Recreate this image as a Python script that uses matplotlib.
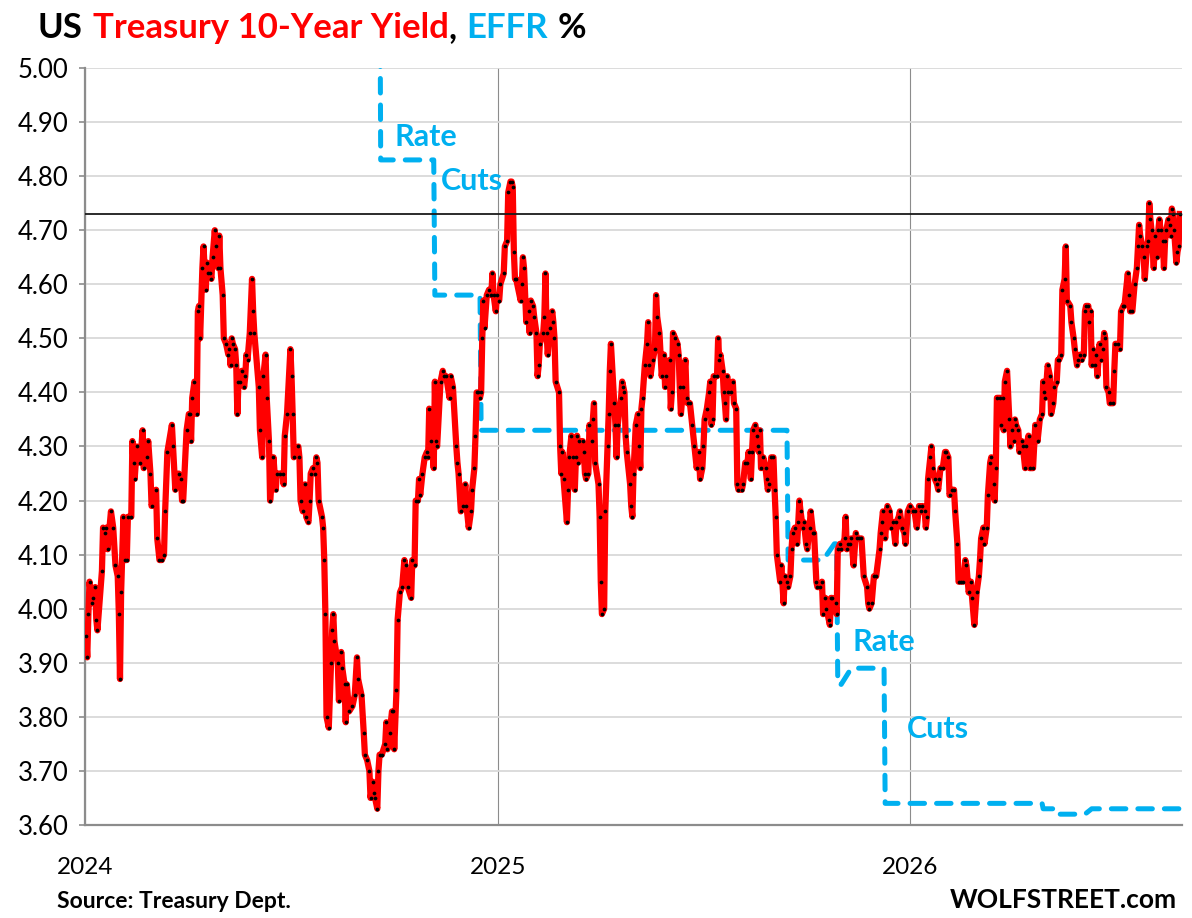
import matplotlib
matplotlib.use("Agg")
import matplotlib.pyplot as plt
import matplotlib.dates as mdates
from matplotlib import font_manager
from matplotlib.ticker import FormatStrFormatter, MultipleLocator
import numpy as np

plt.rcParams["font.family"] = ["Lato", "DejaVu Sans"]

installed = {f.name for f in font_manager.fontManager.ttflist}
narrow = "Liberation Sans Narrow" if "Liberation Sans Narrow" in installed else "Lato"

start = np.datetime64("2024-01-01")

# 10-year Treasury yield, x = days since 2024-01-01
yield_days = [
    1, 2, 3, 4, 6, 7, 9, 10, 11, 15,
    16, 18, 19, 20, 23, 25, 27, 29, 30, 31,
    32, 34, 35, 37, 38, 41, 42, 43, 44, 46,
    49, 51, 52, 55, 56, 58, 59, 63, 64, 66,
    68, 70, 71, 73, 77, 78, 80, 83, 85, 86,
    87, 90, 92, 93, 94, 95, 97, 99, 100, 101,
    102, 104, 105, 107, 108, 109, 111, 112, 113, 115,
    116, 118, 119, 120, 122, 123, 125, 127, 128, 129,
    130, 131, 133, 134, 135, 136, 137, 139, 141, 142,
    143, 144, 146, 148, 149, 150, 154, 155, 157, 158,
    160, 161, 163, 164, 167, 169, 170, 173, 175, 176,
    177, 179, 182,
    183, 184, 185, 189, 190, 191, 193, 195, 196, 198,
    199, 200, 202, 204, 205, 206, 207, 210, 211, 212,
    213, 214, 216, 218, 219, 220, 221, 224, 225, 227,
    228, 230, 231, 232, 234, 237, 239, 241, 242, 245,
    247, 248, 250, 252, 253, 255, 256, 257, 259, 260,
    261, 263, 266, 267, 268, 270, 272, 273, 274, 276,
    277, 279, 281, 283, 284, 286, 289, 290, 292, 293,
    295, 296, 297, 299, 301, 303, 304, 305, 307, 309,
    310, 311, 312, 315, 317, 318, 320, 323, 324, 326,
    329, 330, 331, 333, 335, 337, 338, 340, 342, 343,
    345, 346, 347, 348, 350, 351, 352, 353, 354, 356,
    358, 360, 361, 362, 364, 365, 367, 368, 371,
    372, 374, 375, 377, 378, 379, 380, 381, 382, 386,
    387, 388, 389, 391, 393, 394, 395, 397, 398, 400,
    401, 402, 403, 406, 407, 408, 409, 410, 412, 414,
    415, 416, 417, 420, 421, 422, 423, 424, 427, 428,
    429, 431, 432, 434, 435, 436, 437, 438, 441, 442,
    443, 444, 446, 447, 449, 450, 451, 452, 455, 456,
    457, 458, 460, 461, 463, 464, 465, 466, 469, 470,
    471, 472, 475, 476, 477, 478, 479, 480, 483, 484,
    485, 486, 488, 490, 491, 492, 493, 494, 496, 498,
    499, 500, 501, 503, 505, 506, 507, 509, 511, 513,
    514, 515, 518, 519, 520, 521, 523, 525, 526, 527,
    528, 530, 532, 533, 534, 536, 538, 540, 542, 544,
    545, 547, 548,
    549, 551, 553, 554, 555, 556, 557, 560, 561, 562,
    563, 565, 566, 567, 568, 569, 570, 572, 574, 575,
    577, 578, 579, 582, 583, 585, 587, 588, 590, 591,
    592, 594, 595, 596, 597, 598, 599, 601, 603, 604,
    605, 606, 608, 610, 611, 612, 613, 616, 617, 619,
    620, 622, 623, 625, 626, 627, 629, 631, 632, 633,
    634, 636, 637, 639, 640, 642, 643, 645, 646, 648,
    649, 651, 653, 654, 656, 657, 659, 660, 661, 662,
    665, 666, 667, 669, 670, 673, 674, 675, 676, 678,
    679, 681, 683, 684, 686, 688, 690, 693, 694, 695,
    697, 699, 701, 704, 705, 706, 707, 709, 711, 713,
    714, 716, 718, 719, 721, 722, 724, 726, 727, 729,
    731, 734, 735, 737, 739,
    741, 742, 744, 745, 746, 747, 749, 750, 751, 753,
    755, 756, 757, 758, 760, 762, 763, 765, 766, 768,
    770, 771, 773, 774, 776, 778, 780, 781, 783, 785,
    786, 788, 790, 792, 793, 794, 796, 797, 799, 800,
    802, 803, 805, 806, 807, 808, 811, 812, 813, 814,
    815, 817, 819, 820, 821, 823, 824, 825, 827, 828,
    830, 831, 833, 834, 836, 837, 840, 842, 844, 846,
    848, 849, 850, 851, 853, 855, 856, 858, 859, 861,
    862, 863, 865, 866, 868, 869, 870, 873, 874, 876,
    877, 879, 880, 882, 883, 885, 886, 887, 889, 890,
    891, 892, 893, 895, 896, 897, 899, 900, 902, 903,
    904, 905, 907, 908, 911, 912, 913, 915, 917, 918,
    920, 921, 924, 925, 926, 928, 930, 932, 933, 934,
    935, 937, 938, 939, 941, 942, 943, 944, 945, 947,
    948, 950, 951, 952, 953, 955, 956, 957, 958, 960,
    961, 962, 963, 964, 965, 967, 968, 969, 970,
]
yield_vals = [
    3.95, 3.91, 3.99, 4.05, 4.01, 4.02, 4.04, 3.98, 3.96, 4.07,
    4.15, 4.14, 4.15, 4.11, 4.18, 4.15, 4.08, 4.06, 3.99, 3.87,
    4.03, 4.17, 4.09, 4.09, 4.17, 4.17, 4.31, 4.27, 4.24, 4.30,
    4.27, 4.33, 4.26, 4.28, 4.31, 4.25, 4.19, 4.22, 4.13, 4.09,
    4.09, 4.10, 4.18, 4.29, 4.34, 4.30, 4.22, 4.25, 4.24, 4.20,
    4.20, 4.33, 4.36, 4.36, 4.31, 4.39, 4.42, 4.36, 4.55, 4.56,
    4.50, 4.63, 4.67, 4.59, 4.64, 4.62, 4.62, 4.61, 4.65, 4.70,
    4.67, 4.63, 4.69, 4.63, 4.58, 4.50, 4.49, 4.47, 4.48, 4.45,
    4.50, 4.49, 4.48, 4.45, 4.36, 4.42, 4.42, 4.44, 4.41, 4.43,
    4.47, 4.46, 4.51, 4.61, 4.55, 4.51, 4.41, 4.33, 4.28, 4.43,
    4.47, 4.39, 4.31, 4.20, 4.28, 4.22, 4.25, 4.25, 4.25, 4.23,
    4.32, 4.36, 4.48,
    4.43, 4.36, 4.28, 4.30, 4.28, 4.20, 4.18, 4.23, 4.17, 4.16,
    4.20, 4.25, 4.26, 4.25, 4.28, 4.27, 4.20, 4.17, 4.15, 4.09,
    3.99, 3.80, 3.78, 3.90, 3.96, 3.99, 3.94, 3.90, 3.83, 3.92,
    3.89, 3.86, 3.79, 3.86, 3.81, 3.82, 3.84, 3.91, 3.87, 3.84,
    3.77, 3.73, 3.72, 3.70, 3.65, 3.68, 3.66, 3.65, 3.63, 3.70,
    3.73, 3.73, 3.75, 3.79, 3.74, 3.77, 3.81, 3.81, 3.74, 3.85,
    3.98, 4.03, 4.04, 4.09, 4.08, 4.04, 4.02, 4.09, 4.08, 4.20,
    4.20, 4.24, 4.21, 4.25, 4.28, 4.29, 4.28, 4.37, 4.31, 4.26,
    4.42, 4.31, 4.30, 4.42, 4.44, 4.43, 4.43, 4.39, 4.43, 4.41,
    4.30, 4.27, 4.25, 4.18, 4.19, 4.23, 4.19, 4.15, 4.18, 4.22,
    4.26, 4.32, 4.40, 4.40, 4.39, 4.40, 4.50, 4.57, 4.52, 4.58,
    4.59, 4.58, 4.62, 4.58, 4.55, 4.58, 4.57, 4.60, 4.62,
    4.67, 4.68, 4.77, 4.79, 4.79, 4.78, 4.66, 4.61, 4.61, 4.57,
    4.60, 4.65, 4.63, 4.53, 4.55, 4.51, 4.57, 4.56, 4.54, 4.51,
    4.43, 4.45, 4.49, 4.51, 4.54, 4.62, 4.51, 4.47, 4.52, 4.55,
    4.53, 4.50, 4.42, 4.40, 4.30, 4.25, 4.29, 4.24, 4.16, 4.22,
    4.28, 4.32, 4.28, 4.22, 4.28, 4.32, 4.27, 4.31, 4.31, 4.29,
    4.25, 4.24, 4.25, 4.34, 4.31, 4.35, 4.38, 4.27, 4.23, 4.17,
    4.05, 3.99, 4.00, 4.18, 4.30, 4.36, 4.44, 4.49, 4.38, 4.34,
    4.28, 4.34, 4.39, 4.42, 4.41, 4.40, 4.32, 4.29, 4.23, 4.19,
    4.17, 4.25, 4.34, 4.36, 4.30, 4.26, 4.37, 4.39, 4.45, 4.49,
    4.53, 4.45, 4.43, 4.46, 4.48, 4.58, 4.54, 4.51, 4.43, 4.47,
    4.41, 4.43, 4.46, 4.37, 4.40, 4.51, 4.50, 4.49, 4.47, 4.41,
    4.36, 4.41, 4.46, 4.39, 4.38, 4.38, 4.34, 4.30, 4.26, 4.29,
    4.24, 4.26, 4.30,
    4.35, 4.37, 4.40, 4.42, 4.34, 4.35, 4.43, 4.43, 4.50, 4.46,
    4.47, 4.44, 4.40, 4.38, 4.35, 4.43, 4.40, 4.40, 4.42, 4.38,
    4.37, 4.23, 4.22, 4.22, 4.23, 4.27, 4.27, 4.29, 4.24, 4.29,
    4.33, 4.34, 4.32, 4.30, 4.29, 4.33, 4.26, 4.28, 4.26, 4.24,
    4.22, 4.23, 4.28, 4.28, 4.22, 4.17, 4.10, 4.05, 4.08, 4.01,
    4.06, 4.05, 4.04, 4.06, 4.11, 4.14, 4.15, 4.12, 4.16, 4.20,
    4.18, 4.15, 4.16, 4.12, 4.11, 4.15, 4.18, 4.14, 4.14, 4.05,
    4.04, 4.04, 4.05, 3.99, 4.02, 4.00, 3.98, 3.97, 4.02, 4.02,
    4.01, 3.99, 4.11, 4.12, 4.11, 4.13, 4.17, 4.11, 4.12, 4.12,
    4.13, 4.08, 4.14, 4.13, 4.13, 4.13, 4.06, 4.04, 4.01, 4.00,
    4.01, 4.06, 4.06, 4.11, 4.14, 4.16, 4.18, 4.13, 4.19, 4.18,
    4.15, 4.16, 4.12, 4.16, 4.17, 4.18, 4.15, 4.14, 4.12, 4.18,
    4.19, 4.18, 4.18, 4.15, 4.19,
    4.18, 4.19, 4.18, 4.15, 4.17, 4.24, 4.28, 4.30, 4.26, 4.24,
    4.23, 4.22, 4.24, 4.26, 4.26, 4.29, 4.29, 4.28, 4.21, 4.22,
    4.22, 4.18, 4.12, 4.05, 4.05, 4.05, 4.09, 4.08, 4.03, 4.05,
    4.02, 3.97, 4.03, 4.06, 4.09, 4.13, 4.15, 4.12, 4.15, 4.21,
    4.27, 4.28, 4.23, 4.20, 4.26, 4.39, 4.39, 4.34, 4.39, 4.33,
    4.42, 4.44, 4.35, 4.30, 4.33, 4.31, 4.35, 4.34, 4.33, 4.29,
    4.31, 4.30, 4.26, 4.30, 4.32, 4.26, 4.26, 4.34, 4.31, 4.35,
    4.36, 4.42, 4.40, 4.39, 4.45, 4.43, 4.36, 4.38, 4.41, 4.42,
    4.46, 4.46, 4.47, 4.59, 4.61, 4.67, 4.57, 4.56, 4.53, 4.50,
    4.48, 4.45, 4.46, 4.47, 4.46, 4.47, 4.55, 4.56, 4.56, 4.53,
    4.55, 4.45, 4.48, 4.45, 4.47, 4.43, 4.49, 4.46, 4.48, 4.51,
    4.50, 4.41, 4.40, 4.38, 4.38, 4.44, 4.49, 4.49, 4.48, 4.55,
    4.56, 4.56, 4.62, 4.58, 4.55, 4.55, 4.60, 4.63, 4.67, 4.71,
    4.69, 4.67, 4.65, 4.61, 4.67, 4.68, 4.75, 4.72, 4.70, 4.63,
    4.69, 4.65, 4.70, 4.72, 4.70, 4.68, 4.63, 4.68, 4.70, 4.72,
    4.71, 4.69, 4.74, 4.73, 4.70, 4.64, 4.66, 4.67, 4.73,
]

# effective fed funds rate, change points (days since 2024-01-01)
effr_days = [0, 261, 262, 309, 310, 350, 351, 622, 623, 654, 664, 666,
             667, 670, 679, 708, 709, 848, 849, 861, 862, 886, 892, 970]
effr_vals = [5.33, 5.33, 4.83, 4.83, 4.58, 4.58, 4.33, 4.33, 4.09, 4.09, 4.12, 4.12,
             3.86, 3.86, 3.89, 3.89, 3.64, 3.64, 3.63, 3.63, 3.62, 3.62, 3.63, 3.63]

ref_level = 4.73
x_end_day = 972

assert len(yield_days) == len(yield_vals)

yd = start + np.array(yield_days).astype("timedelta64[D]")
ed = start + np.array(effr_days).astype("timedelta64[D]")

fig = plt.figure(figsize=(11.92, 9.18), dpi=100)
ax = fig.add_axes([85 / 1192, 1 - 825 / 918, (1182 - 85) / 1192, (825 - 68) / 918])

cyan = "#00B0F0"
ax.plot(ed, effr_vals, color=cyan, lw=3.6, dashes=(2.9, 2.4),
        dash_capstyle="round", zorder=2)
ax.plot(yd, yield_vals, color="#FF0000", lw=4.5, solid_joinstyle="round", zorder=3)
ax.plot(yd, yield_vals, ls="none", marker="o", ms=2.7, mfc="black", mec="none", zorder=4)
ax.axhline(ref_level, color="#1a1a1a", lw=1.3, zorder=5)

ax.set_ylim(3.6, 5.0)
ax.set_xlim(start, start + np.timedelta64(x_end_day, "D"))
ax.yaxis.set_major_locator(MultipleLocator(0.1))
ax.yaxis.set_major_formatter(FormatStrFormatter("%.2f"))
ax.xaxis.set_major_locator(mdates.YearLocator())
ax.xaxis.set_major_formatter(mdates.DateFormatter("%Y"))

ax.set_axisbelow(True)
ax.yaxis.grid(True, color="#d9d9d9", lw=1.3)
ax.xaxis.grid(True, color="#8c8c8c", lw=0.8)
for s in ["top", "right"]:
    ax.spines[s].set_visible(False)
for s in ["left", "bottom"]:
    ax.spines[s].set_color("#8c8c8c")
    ax.spines[s].set_linewidth(1.6)
ax.tick_params(axis="y", length=4, width=1.2, color="#8c8c8c", pad=8, labelsize=18.5)
ax.tick_params(axis="x", length=0, pad=23, labelsize=17.5)

lbl = dict(color=cyan, fontsize=22, fontweight="bold", ha="center", va="center", zorder=6)
ax.text(start + np.timedelta64(302, "D"), 4.872, "Rate", **lbl)
ax.text(start + np.timedelta64(343, "D"), 4.791, "Cuts", **lbl)
ax.text(start + np.timedelta64(708, "D"), 3.938, "Rate", **lbl)
ax.text(start + np.timedelta64(756, "D"), 3.778, "Cuts", **lbl)

# multi-colour title, pieces chained left to right
tsize = 25
parts = [("US", "black", 0), ("Treasury 10-Year Yield", "#FF0000", 7),
         (",", "black", 0), ("EFFR", cyan, 7), ("%", "black", 7)]
prev = fig.text(38 / 1192, 1 - 38 / 918, parts[0][0], color=parts[0][1],
                fontsize=tsize, fontweight="bold", va="baseline", ha="left")
for txt, col, gap in parts[1:]:
    prev = ax.annotate(txt, xy=(1, 0), xycoords=prev, xytext=(gap, 0),
                       textcoords="offset points", color=col, fontsize=tsize,
                       fontweight="bold", va="bottom", ha="left",
                       annotation_clip=False)

fig.text(57 / 1192, 1 - 908 / 918, "Source: Treasury Dept.", family=narrow,
         fontsize=16.5, fontweight="bold", ha="left", va="baseline")
fig.text(1177 / 1192, 1 - 908 / 918, "WOLFSTREET.com", family=narrow,
         fontsize=19, fontweight="bold", ha="right", va="baseline")

fig.savefig("out.png", dpi=100)
